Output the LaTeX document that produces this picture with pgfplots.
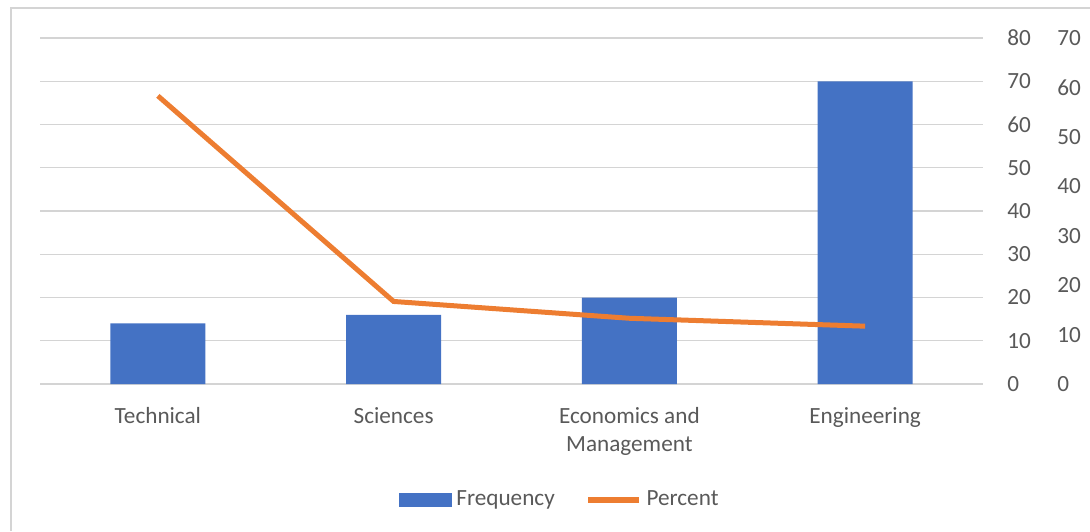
\documentclass[border=0pt]{standalone}
\usepackage{pgfplots}
\pgfplotsset{compat=1.18}
\usepackage{fontspec}
\setmainfont{Carlito}
\definecolor{barblue}{HTML}{4472C4}
\definecolor{lineorange}{HTML}{ED7D31}
\definecolor{gridgray}{HTML}{D4D4D4}
\definecolor{txt}{HTML}{595959}
\begin{document}
\begin{tikzpicture}
\useasboundingbox (0,0) rectangle (545pt,265.5pt);
\draw[gridgray, line width=0.6pt] (5.5pt,0) -- (5.5pt,261.5pt) -- (545pt,261.5pt);
\pgfplotsset{
  common/.style={
    at={(20pt,73.5pt)}, anchor=south west,
    scale only axis, width=471.5pt, height=173pt,
    xmin=-0.5, xmax=3.5,
    axis x line*=bottom, axis y line*=right,
    axis line style={draw=none},
    major tick length=0pt,
    font=\fontsize{11.6}{14.2}\selectfont,
    tick label style={text=txt},
    /pgf/number format/assume math mode=true,
    yticklabel pos=right,
  }
}
\begin{axis}[common,
  ymin=0, ymax=80, ytick={0,10,...,80},
  ymajorgrids, grid style={gridgray, line width=0.55pt},
  yticklabel style={anchor=west, inner sep=0pt, xshift=12pt},
  xtick={0,1,2,3},
  xticklabels={Technical, Sciences, {Economics and\\Management}, Engineering},
  xticklabel style={anchor=north, inner sep=0pt, yshift=-11.5pt, align=center},
]
\addplot[ybar, bar width=47.5pt, fill=barblue, draw=none] coordinates {(0,14) (1,16) (2,20) (3,70)};
\end{axis}
\begin{axis}[common,
  ymin=0, ymax=70, ytick={0,10,...,70},
  yticklabel style={anchor=west, inner sep=0pt, xshift=37pt},
  xtick=\empty,
  legend columns=2,
  legend style={draw=none, fill=none, at={(0.5525,-0.3353)}, anchor=center,
    text=txt, font=\fontsize{11.6}{14.2}\selectfont,
    nodes={inner sep=2.3pt},
    /tikz/every even column/.append style={column sep=13pt}},
]
\addlegendimage{legend image code/.code={\fill[barblue] (0pt,-3.25pt) rectangle (26pt,3.25pt);}}
\addlegendentry{Frequency}
\addplot[lineorange, line width=2.5pt,
  legend image code/.code={\draw[lineorange, line width=2.8pt] (0pt,0pt) -- (25.5pt,0pt);}]
  coordinates {(0,58.3) (1,16.7) (2,13.3) (3,11.7)};
\addlegendentry{Percent}
\end{axis}
\end{tikzpicture}
\end{document}
